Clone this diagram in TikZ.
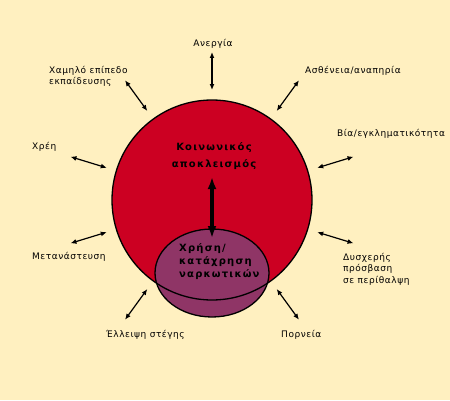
\documentclass[tikz,border=0pt]{standalone}
\usepackage{fontspec}
\setmainfont{DejaVu Sans}
\newfontfamily\lblfont[LetterSpace=6]{DejaVu Sans}
\newfontfamily\corefont[LetterSpace=12]{DejaVu Sans Bold}
\usetikzlibrary{positioning,arrows.meta,calc}
\definecolor{bgcream}{RGB}{255,240,192}
\definecolor{exred}{RGB}{204,0,34}
\definecolor{drugpurple}{RGB}{143,53,102}
\tikzset{
  bgbox/.style={fill=bgcream,draw=none},
  exdisc/.style={fill=exred,draw=none},
  exrim/.style={draw=black,line width=1.3pt},
  drugdisc/.style={fill=drugpurple,draw=black,line width=1.3pt},
  dbl/.style={{Latex[length=6pt,width=5pt]}-{Latex[length=6pt,width=5pt]},line width=1.2pt},  % outer factor arrow
  bigdbl/.style={{Latex[length=12pt,width=9pt]}-{Latex[length=12pt,width=9pt]},line width=3.2pt}, % central link
  lbl/.style={font=\lblfont\fontsize{9}{11.5}\selectfont,inner sep=0pt,align=left,anchor=west},
  blbl/.style={font=\corefont\fontsize{10}{17}\selectfont,inner sep=0pt,align=center},
  dlbl/.style={font=\corefont\fontsize{10}{13}\selectfont,inner sep=0pt,align=left,anchor=west},
}
\begin{document}
\begin{tikzpicture}[x=1pt,y=1pt]
  \path[bgbox] (0,0) rectangle (450,400);
  \useasboundingbox (0,0) rectangle (450,400);
  \coordinate (c) at (212,200);
  % the two discs
  \fill[exdisc] (c) circle (100);
  \draw[drugdisc] (212,127) ellipse [x radius=57,y radius=44];
  \draw[exrim] (c) circle (100);
  % factor arrows all round
  \foreach \a in {90,54,126,17,163,-17,197,-54,234}{
    \coordinate (in\a) at ($(c)+(\a:110)$);
    \coordinate (out\a) at ($(c)+(\a:148)$);
    \draw[dbl] (in\a) -- (out\a);
  }
  % labels of the factors
  \node[lbl,anchor=center] (unemp) at (213,356) {Ανεργία};
  \node[lbl] (edu) at (49,323.5) {Χαμηλό επίπεδο\\εκπαίδευσης};
  \node[lbl] (ill) at (305,329) {Ασθένεια/αναπηρία};
  \node[lbl] (crime) at (337,266) {Βία/εγκληματικότητα};
  \node[lbl] (debt) at (32,253) {Χρέη};
  \node[lbl] (migr) at (32,143) {Μετανάστευση};
  \node[lbl] (care) at (343,131) {Δυσχερής\\πρόσβαση\\σε περίθαλψη};
  \node[lbl] (home) at (106,65) {Έλλειψη στέγης};
  \node[lbl] (prost) at (281,65) {Πορνεία};
  % the two core texts
  \node[blbl] (excl) at (214,243.5) {Κοινωνικός\\αποκλεισμός};
  \node[dlbl] (drug) at (179,138.5) {Χρήση/\\κατάχρηση\\ναρκωτικών};
  \coordinate (ltop) at (212,223);
  \coordinate (lbot) at (212,162);
  \draw[bigdbl] (ltop) -- (lbot);
\end{tikzpicture}
\end{document}
